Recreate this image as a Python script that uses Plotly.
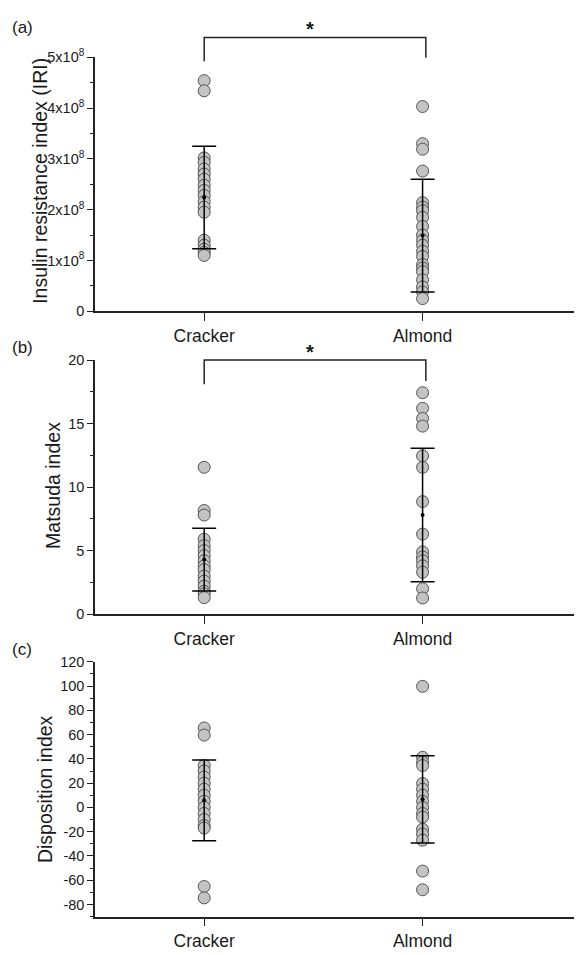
import plotly.graph_objects as go

# ---------------- data ----------------
groups = ["Cracker", "Almond"]
group_pos = [1, 2]

iri_cracker = [4.54, 4.34, 3.02, 2.93, 2.80, 2.70, 2.60, 2.48, 2.38, 2.28, 2.16, 2.05, 1.95,
               1.40, 1.30, 1.22, 1.16, 1.10]
iri_almond = [4.03, 3.30, 3.19, 2.76, 2.14, 2.05, 1.98, 1.85, 1.67, 1.50, 1.40, 1.30, 1.18,
              1.08, 0.92, 0.85, 0.78, 0.62, 0.48, 0.38, 0.25]
iri_scale = 1e8
iri_mean = [2.24, 1.49]
iri_sd = [1.01, 1.11]

mat_cracker = [11.56, 8.16, 7.8, 5.9, 5.4, 5.0, 4.6, 4.2, 3.8, 3.5, 3.0, 2.6, 2.2, 1.8, 1.6, 1.3]
mat_almond = [17.43, 16.2, 15.4, 14.8, 12.46, 11.56, 8.86, 6.3, 4.9, 4.5, 4.2, 3.8, 3.3, 2.0, 1.27]
mat_mean = [4.3, 7.8]
mat_sd = [2.47, 5.25]

di_cracker = [65.5, 59.6, 34.5, 30, 25, 20, 15, 10, 5, 0, -5, -10, -15, -17, -65.2, -74.6]
di_almond = [99.8, 41.3, 37.2, 34.5, 19.7, 15, 10, 5, 0, -5, -8, -18, -22, -27, -52.5, -67.9]
di_mean = [5.8, 6.65]
di_sd = [33.3, 35.95]

iri_ticks = [0, 1, 2, 3, 4, 5]
iri_ticktext = ["0"] + [f"{t}x10<sup>8</sup>" for t in iri_ticks[1:]]
mat_ticks = [0, 5, 10, 15, 20]
di_ticks = [-80, -60, -40, -20, 0, 20, 40, 60, 80, 100, 120]

panel_labels = ["(a)", "(b)", "(c)"]
y_titles = ["Insulin resistance index (IRI)", "Matsuda index", "Disposition index"]

# ---------------- layout geometry ----------------
# page has an 8px body margin; figure is sized so that it ends at the window edge
OFF = 8
W, H = 582 - OFF, 955 - OFF
FONT = "Liberation Sans, Arial, sans-serif"
TXT = "#1a1a1a"
x_range = [0.5, 2.73]

def ydom(top_px, bot_px):
    return [1 - (bot_px - OFF) / H, 1 - (top_px - OFF) / H]

def px_x(px):
    return (px - OFF) / W

def px_y(px):
    return 1 - (px - OFF) / H

fig = go.Figure()

panels = [
    dict(c=[v * iri_scale for v in iri_cracker], a=[v * iri_scale for v in iri_almond],
         mean=[v * iri_scale for v in iri_mean], sd=[v * iri_scale for v in iri_sd],
         yrange=[0, 5 * iri_scale], tickvals=[t * iri_scale for t in iri_ticks],
         ticktext=iri_ticktext, minor=0.5 * iri_scale, dom=ydom(48, 307),
         title_xy=(40, 174)),
    dict(c=mat_cracker, a=mat_almond, mean=mat_mean, sd=mat_sd,
         yrange=[0, 20], tickvals=mat_ticks, ticktext=[str(t) for t in mat_ticks],
         minor=2.5, dom=ydom(356.7, 615.7), title_xy=(53, 485)),
    dict(c=di_cracker, a=di_almond, mean=di_mean, sd=di_sd,
         yrange=[-90, 120], tickvals=di_ticks, ticktext=[str(t) for t in di_ticks],
         minor=10, dom=ydom(664.3, 924), title_xy=(45, 794)),
]

marker_style = dict(size=12, color="#c3c3c3", line=dict(color="#555555", width=1))

for i, p in enumerate(panels):
    xa = "x" if i == 0 else f"x{i+1}"
    ya = "y" if i == 0 else f"y{i+1}"
    for gi, vals in enumerate([p["c"], p["a"]]):
        fig.add_trace(go.Scatter(
            x=[group_pos[gi]] * len(vals), y=vals, mode="markers",
            marker=marker_style, xaxis=xa, yaxis=ya, showlegend=False,
            cliponaxis=False, hoverinfo="y"))
    fig.add_trace(go.Scatter(
        x=group_pos, y=p["mean"], mode="markers",
        marker=dict(size=4, color="black"),
        error_y=dict(type="data", array=p["sd"], visible=True, color="black",
                     thickness=1.5, width=12),
        xaxis=xa, yaxis=ya, showlegend=False, cliponaxis=False))

    lay_x = "xaxis" if i == 0 else f"xaxis{i+1}"
    lay_y = "yaxis" if i == 0 else f"yaxis{i+1}"
    fig.layout[lay_x] = dict(
        domain=[px_x(95), 1], range=x_range, anchor=ya,
        tickvals=group_pos, ticktext=groups, ticks="outside", ticklen=8,
        tickwidth=1, tickcolor="#222",
        showline=True, linecolor="#222", linewidth=1.5, showgrid=False,
        zeroline=False, tickfont=dict(family=FONT, size=17.5, color=TXT), fixedrange=True)
    fig.layout[lay_y] = dict(
        domain=p["dom"], range=p["yrange"], anchor=xa,
        tickvals=p["tickvals"], ticktext=p["ticktext"], ticks="outside", ticklen=6,
        tickwidth=1, tickcolor="#222",
        minor=dict(dtick=p["minor"], ticks="outside", ticklen=3, tickcolor="#222",
                   showgrid=False, tick0=p["yrange"][0]),
        showline=True, linecolor="#222", linewidth=1.5, showgrid=False, zeroline=False,
        tickfont=dict(family=FONT, size=14.5, color=TXT), fixedrange=True)
    # y-axis title as rotated annotation (exact placement)
    tx, ty = p["title_xy"]
    fig.add_annotation(x=px_x(tx), y=px_y(ty), xref="paper", yref="paper",
                       text=y_titles[i], textangle=-90, showarrow=False,
                       xanchor="center", yanchor="middle",
                       font=dict(family=FONT, size=19.5, color=TXT))

# significance brackets (panels a and b)
def xfrac(v):
    return (v - x_range[0]) / (x_range[1] - x_range[0])

brackets = [
    dict(ax="x", ay="y", left_tip=4.92 * iri_scale, right_tip=4.99 * iri_scale,
         top=5.39 * iri_scale, star=5.55 * iri_scale, yr=panels[0]["yrange"]),
    dict(ax="x2", ay="y2", left_tip=18.1, right_tip=18.35, top=20.0, star=20.62,
         yr=panels[1]["yrange"]),
]
for b in brackets:
    def yf(v, yr=b["yr"]):
        return (v - yr[0]) / (yr[1] - yr[0])
    x0, x1 = xfrac(group_pos[0]), xfrac(group_pos[1] + 0.015)
    path = (f"M {x0} {yf(b['left_tip'])} L {x0} {yf(b['top'])} "
            f"L {x1} {yf(b['top'])} L {x1} {yf(b['right_tip'])}")
    fig.add_shape(type="path", path=path, xref=f"{b['ax']} domain", yref=f"{b['ay']} domain",
                  line=dict(color="#222", width=1.5))
    fig.add_annotation(x=(x0 + x1) / 2 - 0.01, y=yf(b["star"]), xref=f"{b['ax']} domain",
                       yref=f"{b['ay']} domain", text="<b>*</b>", showarrow=False,
                       yanchor="middle",
                       font=dict(family=FONT, size=20, color=TXT))

# panel labels
label_y_px = [18, 344, 652]
for lab, ypx in zip(panel_labels, label_y_px):
    fig.add_annotation(x=px_x(10), y=px_y(ypx), xref="paper", yref="paper",
                       text=lab, showarrow=False, xanchor="left", yanchor="middle",
                       font=dict(family=FONT, size=17, color=TXT))

fig.update_layout(width=W, height=H, margin=dict(l=0, r=0, t=0, b=0),
                  paper_bgcolor="white", plot_bgcolor="white", showlegend=False)

fig.write_html("out.html")
